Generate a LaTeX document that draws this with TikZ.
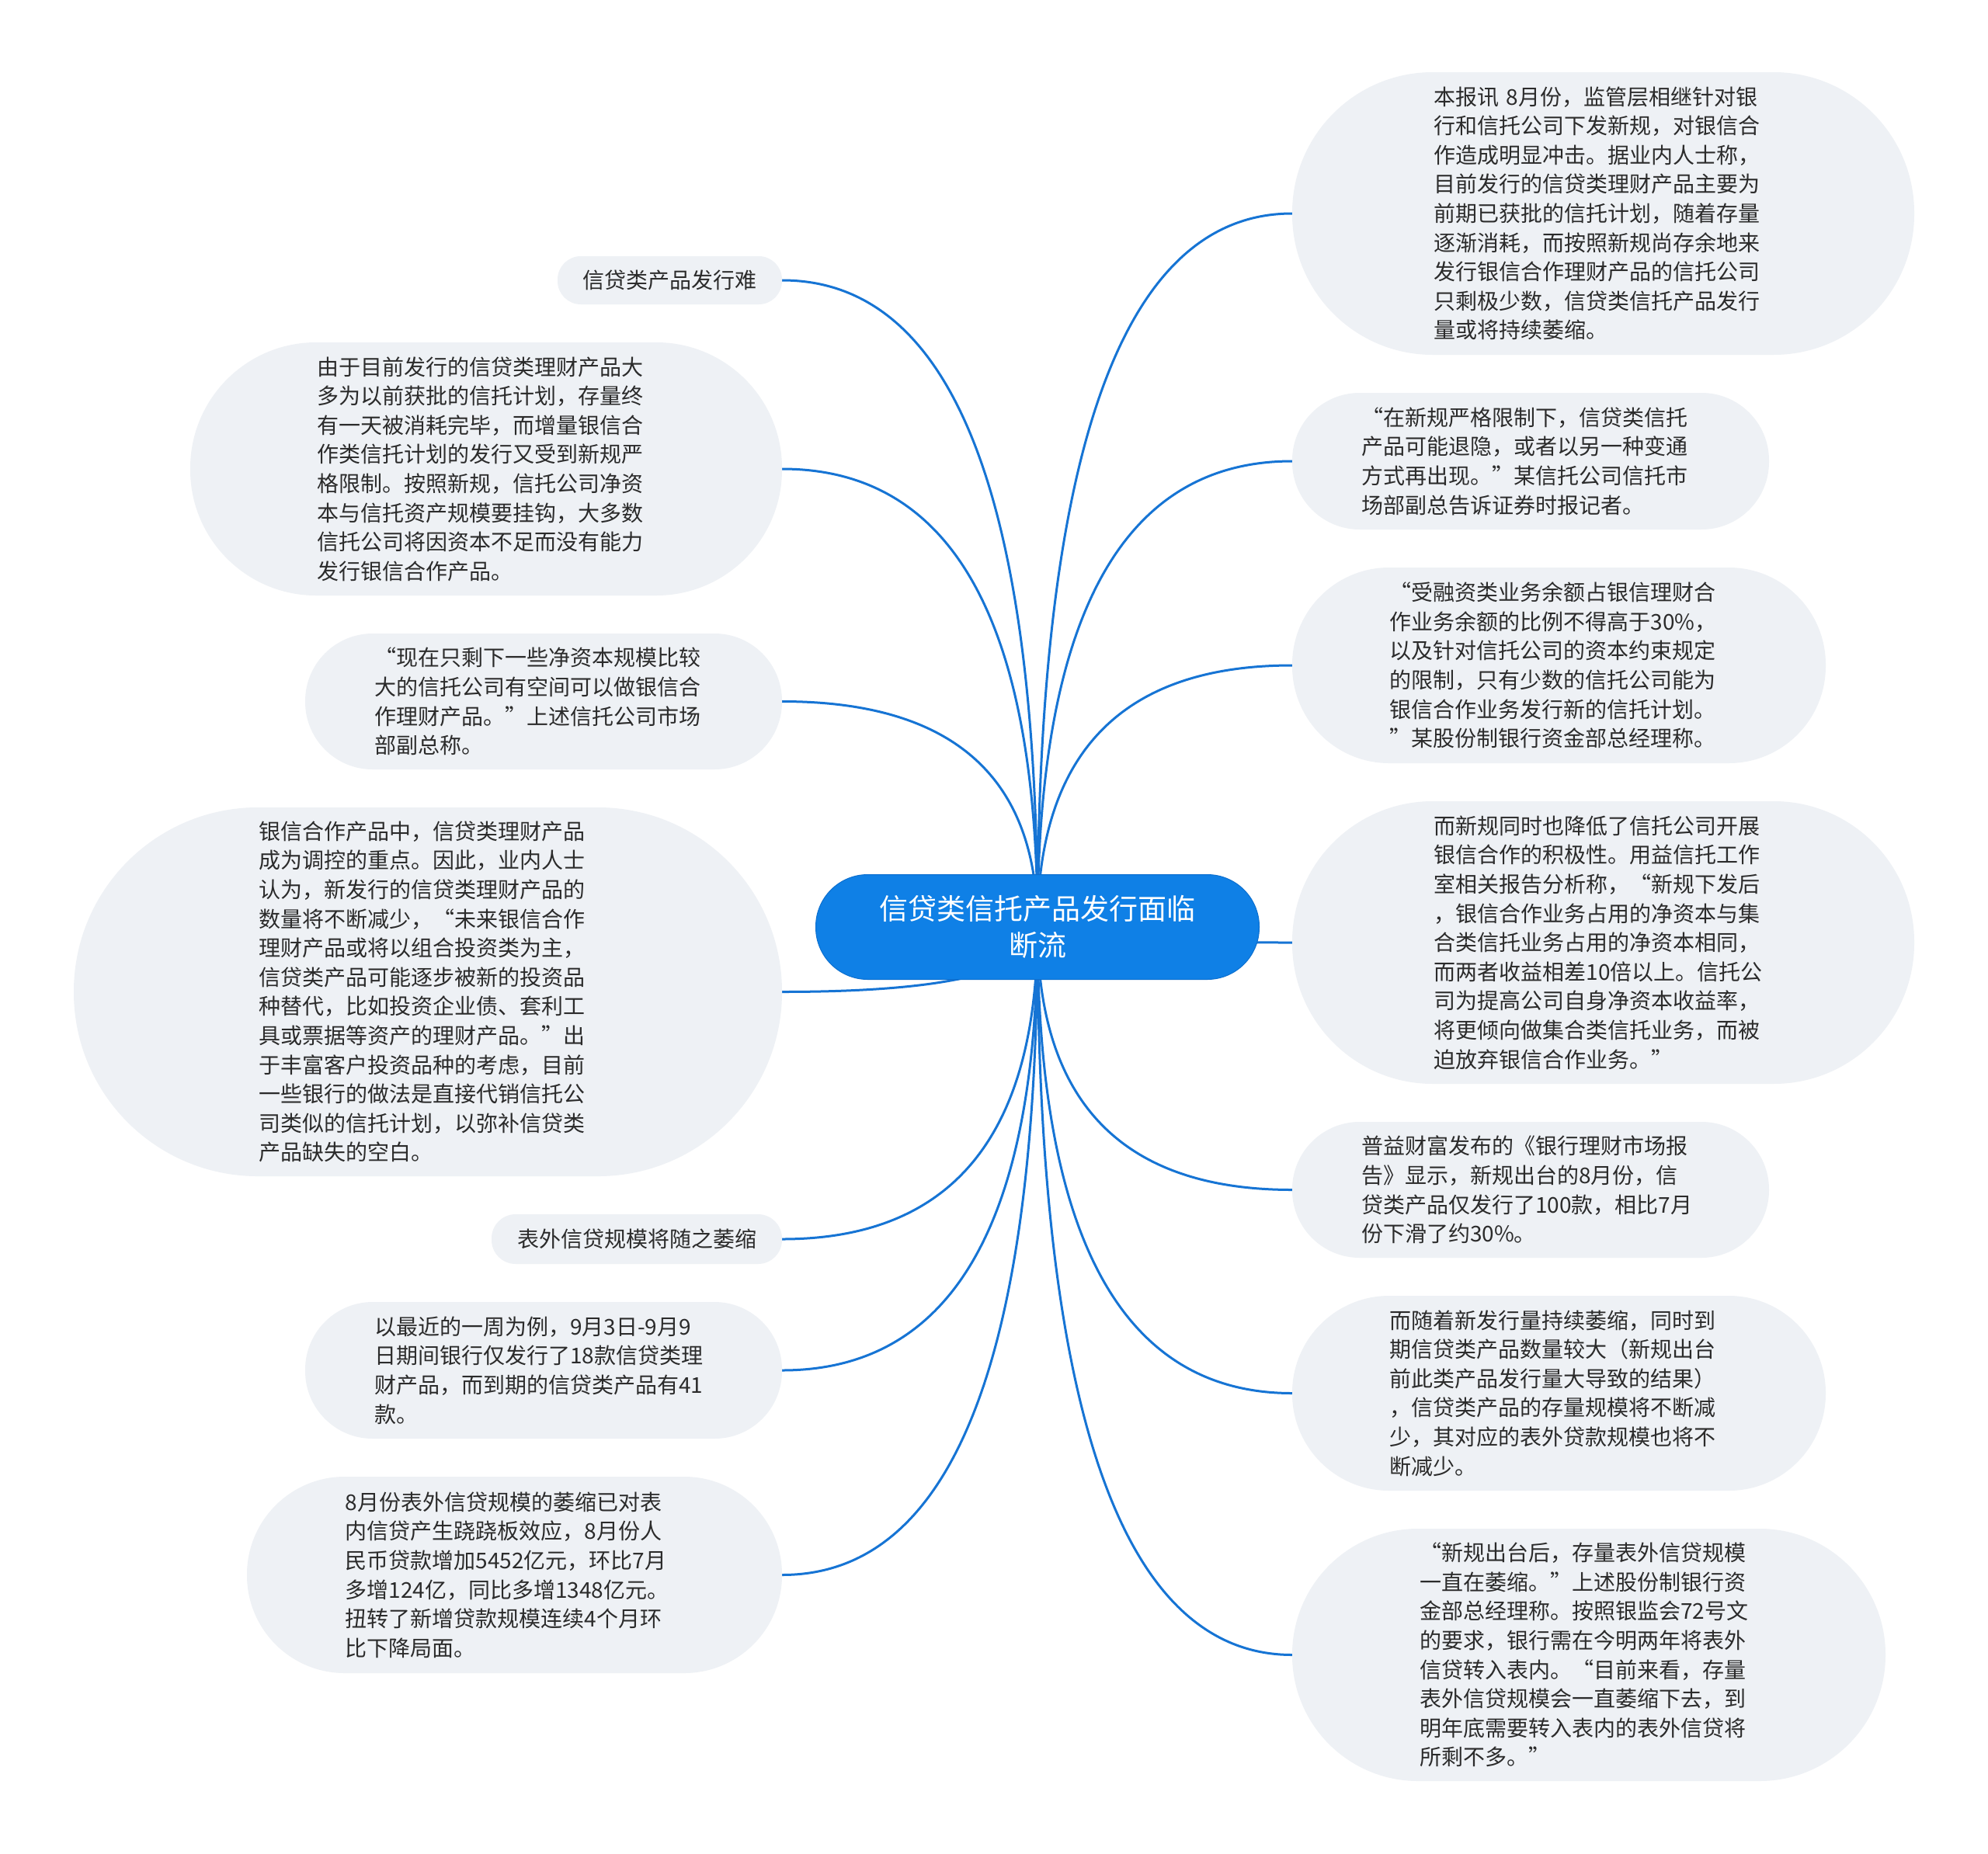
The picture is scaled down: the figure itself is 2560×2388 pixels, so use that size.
\documentclass[tikz,border=0pt]{standalone}
\usepackage{fontspec}
\setmainfont{Noto Sans CJK SC}
\usetikzlibrary{calc}
\pgfdeclarelayer{background}
\pgfsetlayers{background,main}
\definecolor{cfill}{HTML}{0F80E6}
\definecolor{cdraw}{HTML}{0C6FCF}
\definecolor{kfill}{HTML}{EEF1F5}
\definecolor{ktext}{HTML}{2B2B2B}
\definecolor{lcol}{HTML}{1674D4}
\newcommand\myoq{\makebox[1em][r]{“}}
\newcommand\mycq{\makebox[1em][l]{”}}
\newcommand\myconn[1]{\draw[conn] (c.center) .. controls ($(c.center)!0.6667!(c.center |- #1)$) and ($(#1)!0.6667!(c.center |- #1)$) .. (#1);}
\begin{document}
\begin{tikzpicture}[x=1pt,y=-1pt,
  kid/.style={fill=kfill, draw=none, inner sep=0pt, align=left, text=ktext,
    font={\fontsize{28pt}{37.6pt}\selectfont}},
  bigkid/.style={kid, text width=436pt},
  conn/.style={draw=lcol, line width=3pt},
  root/.style={fill=cfill, draw=cdraw, line width=1pt, inner sep=0pt, align=center, text=white,
    font={\fontsize{37pt}{47pt}\selectfont}}]
\useasboundingbox (0,0) rectangle (2560,2388);

\node[root, minimum width=571pt, minimum height=135pt, rounded corners=67pt] (c) at (1336,1194) {信贷类信托产品发行面临\\断流};

% left side
\node[kid, minimum width=289pt, minimum height=62pt, rounded corners=30pt] (l1) at (862.5,361) {信贷类产品发行难};
\node[bigkid, minimum width=762pt, minimum height=326pt, rounded corners=162pt] (l2) at (626,604) {由于目前发行的信贷类理财产品大\\多为以前获批的信托计划，存量终\\有一天被消耗完毕，而增量银信合\\作类信托计划的发行又受到新规严\\格限制。按照新规，信托公司净资\\本与信托资产规模要挂钩，大多数\\信托公司将因资本不足而没有能力\\发行银信合作产品。};
\node[bigkid, minimum width=614pt, minimum height=175pt, rounded corners=87pt] (l3) at (700,903.5) {\myoq 现在只剩下一些净资本规模比较\\大的信托公司有空间可以做银信合\\作理财产品。\mycq 上述信托公司市场\\部副总称。};
\node[bigkid, minimum width=912pt, minimum height=475pt, rounded corners=237pt] (l4) at (551,1277.5) {银信合作产品中，信贷类理财产品\\成为调控的重点。因此，业内人士\\认为，新发行的信贷类理财产品的\\数量将不断减少，\myoq 未来银信合作\\理财产品或将以组合投资类为主，\\信贷类产品可能逐步被新的投资品\\种替代，比如投资企业债、套利工\\具或票据等资产的理财产品。\mycq 出\\于丰富客户投资品种的考虑，目前\\一些银行的做法是直接代销信托公\\司类似的信托计划，以弥补信贷类\\产品缺失的空白。};
\node[kid, minimum width=374pt, minimum height=64pt, rounded corners=31pt] (l5) at (820,1596) {表外信贷规模将随之萎缩};
\node[bigkid, minimum width=614pt, minimum height=176pt, rounded corners=87pt] (l6) at (700,1765) {以最近的一周为例，9月3日-9月9\\日期间银行仅发行了18款信贷类理\\财产品，而到期的信贷类产品有41\\款。};
\node[bigkid, minimum width=689pt, minimum height=253pt, rounded corners=126pt] (l7) at (662.5,2028.5) {8月份表外信贷规模的萎缩已对表\\内信贷产生跷跷板效应，8月份人\\民币贷款增加5452亿元，环比7月\\多增124亿，同比多增1348亿元。\\扭转了新增贷款规模连续4个月环\\比下降局面。};

% right side
\node[bigkid, minimum width=801pt, minimum height=364pt, rounded corners=181pt] (r1) at (2064.5,275) {本报讯 8月份，监管层相继针对银\\行和信托公司下发新规，对银信合\\作造成明显冲击。据业内人士称，\\目前发行的信贷类理财产品主要为\\前期已获批的信托计划，随着存量\\逐渐消耗，而按照新规尚存余地来\\发行银信合作理财产品的信托公司\\只剩极少数，信贷类信托产品发行\\量或将持续萎缩。};
\node[bigkid, minimum width=614pt, minimum height=176pt, rounded corners=87pt] (r2) at (1971,594) {\myoq 在新规严格限制下，信贷类信托\\产品可能退隐，或者以另一种变通\\方式再出现。\mycq 某信托公司信托市\\场部副总告诉证券时报记者。};
\node[bigkid, minimum width=687pt, minimum height=252pt, rounded corners=125pt] (r3) at (2007.5,857) {\myoq 受融资类业务余额占银信理财合\\作业务余额的比例不得高于30\%，\\以及针对信托公司的资本约束规定\\的限制，只有少数的信托公司能为\\银信合作业务发行新的信托计划。\\\mycq 某股份制银行资金部总经理称。};
\node[bigkid, minimum width=801pt, minimum height=364pt, rounded corners=181pt] (r4) at (2064.5,1214) {而新规同时也降低了信托公司开展\\银信合作的积极性。用益信托工作\\室相关报告分析称，\myoq 新规下发后\\，银信合作业务占用的净资本与集\\合类信托业务占用的净资本相同，\\而两者收益相差10倍以上。信托公\\司为提高公司自身净资本收益率，\\将更倾向做集合类信托业务，而被\\迫放弃银信合作业务。\mycq};
\node[bigkid, minimum width=614pt, minimum height=175pt, rounded corners=87pt] (r5) at (1971,1532.5) {普益财富发布的《银行理财市场报\\告》显示，新规出台的8月份，信\\贷类产品仅发行了100款，相比7月\\份下滑了约30\%。};
\node[bigkid, minimum width=687pt, minimum height=251pt, rounded corners=125pt] (r6) at (2007.5,1794.5) {而随着新发行量持续萎缩，同时到\\期信贷类产品数量较大（新规出台\\前此类产品发行量大导致的结果）\\，信贷类产品的存量规模将不断减\\少，其对应的表外贷款规模也将不\\断减少。};
\node[bigkid, minimum width=764pt, minimum height=325pt, rounded corners=162pt] (r7) at (2046,2131.5) {\myoq 新规出台后，存量表外信贷规模\\一直在萎缩。\mycq 上述股份制银行资\\金部总经理称。按照银监会72号文\\的要求，银行需在今明两年将表外\\信贷转入表内。\myoq 目前来看，存量\\表外信贷规模会一直萎缩下去，到\\明年底需要转入表内的表外信贷将\\所剩不多。\mycq};

\begin{pgfonlayer}{background}
\fill[white] (0,0) rectangle (2560,2388);
\myconn{l1.east}
\myconn{l2.east}
\myconn{l3.east}
\myconn{l4.east}
\myconn{l5.east}
\myconn{l6.east}
\myconn{l7.east}
\myconn{r1.west}
\myconn{r2.west}
\myconn{r3.west}
\myconn{r4.west}
\myconn{r5.west}
\myconn{r6.west}
\myconn{r7.west}
\end{pgfonlayer}
\end{tikzpicture}
\end{document}
